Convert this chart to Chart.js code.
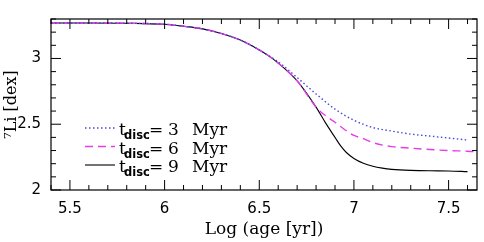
<!DOCTYPE html>
<html>
<head>
<meta charset="utf-8">
<script src="https://cdn.jsdelivr.net/npm/chart.js@4.4.0/dist/chart.umd.min.js"></script>
<style>
  html, body { margin: 0; padding: 0; background: #fff; }
  canvas { display: block; }
</style>
</head>
<body>
<canvas id="chart" width="484" height="242"></canvas>
<script>
// log(age) grid for each track
const ageT3 = [5.4, 5.6, 5.8, 6.0, 6.1, 6.2, 6.3, 6.4, 6.5, 6.55, 6.6, 6.7, 6.8, 6.9, 7.0, 7.1, 7.2, 7.3, 7.4, 7.5, 7.6];
const liT3  = [3.27, 3.27, 3.268, 3.26, 3.245, 3.225, 3.19, 3.14, 3.065, 3.02, 2.975, 2.855, 2.73, 2.615, 2.53, 2.475, 2.448, 2.425, 2.41, 2.395, 2.38];

const ageT6 = [5.4, 5.6, 5.8, 6.0, 6.1, 6.2, 6.3, 6.4, 6.5, 6.55, 6.6, 6.7, 6.8, 6.85, 6.9, 6.95, 7.0, 7.05, 7.1, 7.2, 7.3, 7.4, 7.5, 7.6, 7.65];
const liT6  = [3.27, 3.27, 3.268, 3.26, 3.245, 3.225, 3.19, 3.14, 3.065, 3.02, 2.965, 2.83, 2.63, 2.565, 2.515, 2.46, 2.415, 2.39, 2.36, 2.33, 2.318, 2.308, 2.3, 2.295, 2.29];

const ageT9 = [5.4, 5.6, 5.8, 6.0, 6.1, 6.2, 6.3, 6.4, 6.5, 6.55, 6.6, 6.7, 6.8, 6.85, 6.9, 6.93, 6.96, 7.0, 7.05, 7.1, 7.15, 7.2, 7.3, 7.4, 7.5, 7.6];
const liT9  = [3.27, 3.27, 3.268, 3.26, 3.245, 3.225, 3.19, 3.14, 3.065, 3.02, 2.965, 2.83, 2.63, 2.51, 2.4, 2.335, 2.285, 2.24, 2.203, 2.18, 2.166, 2.157, 2.149, 2.146, 2.145, 2.14];

const discTimes = ['3', '6', '9'];
const xTicks = [5.5, 6, 6.5, 7, 7.5];
const yTicks = [2, 2.5, 3];

function toPoints(xs, ys) {
    return xs.map((x, i) => ({ x: x, y: ys[i] }));
}

const serifFont = '"DejaVu Serif", serif';
const sansFont = '"DejaVu Sans", sans-serif';

// inward ticks on all four sides + closed frame
const frameTicks = {
    id: 'frameTicks',
    afterDraw(chart) {
        const ctx = chart.ctx;
        const a = chart.chartArea;
        const xs = chart.scales.x;
        const ys = chart.scales.y;
        ctx.save();
        ctx.strokeStyle = '#000';
        ctx.lineWidth = 1.2;
        ctx.strokeRect(a.left, a.top, a.right - a.left, a.bottom - a.top);
        ctx.lineWidth = 1;
        ctx.beginPath();
        for (let i = 54; i <= 76; i++) {
            const px = xs.getPixelForValue(i / 10);
            if (px < a.left || px > a.right) continue;
            const len = (i % 5 === 0) ? 10 : 5;
            ctx.moveTo(px, a.bottom); ctx.lineTo(px, a.bottom - len);
            ctx.moveTo(px, a.top); ctx.lineTo(px, a.top + len);
        }
        for (let i = 20; i <= 33; i++) {
            const py = ys.getPixelForValue(i / 10);
            if (py < a.top || py > a.bottom) continue;
            const len = (i % 5 === 0) ? 10 : 5;
            ctx.moveTo(a.left, py); ctx.lineTo(a.left + len, py);
            ctx.moveTo(a.right, py); ctx.lineTo(a.right - len, py);
        }
        ctx.stroke();
        ctx.restore();
    }
};

// legend with t_disc subscript
const discLegend = {
    id: 'discLegend',
    afterDraw(chart) {
        const ctx = chart.ctx;
        ctx.save();
        chart.data.datasets.forEach((ds, i) => {
            const lineY = 128 + i * 18.5;
            const base = 135 + i * 18.5;
            ctx.strokeStyle = ds.borderColor;
            ctx.lineWidth = ds.borderWidth;
            ctx.setLineDash(ds.borderDash || []);
            ctx.beginPath();
            ctx.moveTo(85, lineY);
            ctx.lineTo(115, lineY);
            ctx.stroke();
            ctx.setLineDash([]);
            ctx.fillStyle = '#000';
            ctx.textBaseline = 'alphabetic';
            ctx.textAlign = 'left';
            ctx.font = '17px ' + serifFont;
            ctx.fillText('t', 119, base);
            ctx.font = 'bold 11.5px ' + sansFont;
            ctx.fillText('disc', 124, base + 4);
            ctx.font = '17px ' + serifFont;
            ctx.fillText('=', 149, base);
            ctx.fillText(discTimes[i], 168, base);
            ctx.fillText('Myr', 192, base);
        });
        ctx.restore();
    }
};

new Chart(document.getElementById('chart'), {
    type: 'scatter',
    data: {
        datasets: [
            {
                label: 't_disc = 3 Myr',
                data: toPoints(ageT3, liT3),
                showLine: true,
                borderColor: '#4a4ad8',
                borderWidth: 1.4,
                borderDash: [1.5, 2.5],
                pointRadius: 0,
                cubicInterpolationMode: 'monotone'
            },
            {
                label: 't_disc = 6 Myr',
                data: toPoints(ageT6, liT6),
                showLine: true,
                borderColor: '#e83ce8',
                borderWidth: 1.4,
                borderDash: [8, 5],
                pointRadius: 0,
                cubicInterpolationMode: 'monotone'
            },
            {
                label: 't_disc = 9 Myr',
                data: toPoints(ageT9, liT9),
                showLine: true,
                borderColor: '#000000',
                borderWidth: 1.1,
                pointRadius: 0,
                cubicInterpolationMode: 'monotone'
            }
        ]
    },
    options: {
        responsive: false,
        animation: false,
        devicePixelRatio: 1,
        clip: 0,
        layout: { padding: { top: 5, right: 7, left: 2, bottom: 0 } },
        plugins: {
            legend: { display: false },
            tooltip: { enabled: false }
        },
        scales: {
            x: {
                type: 'linear',
                min: 5.4,
                max: 7.65,
                afterBuildTicks: scale => { scale.ticks = xTicks.map(v => ({ value: v })); },
                afterFit: scale => { scale.height = 52; },
                grid: { display: false, drawTicks: false },
                border: { display: false },
                ticks: {
                    padding: 10,
                    color: '#000',
                    font: { family: sansFont, size: 15 },
                    callback: v => String(v)
                },
                title: {
                    display: true,
                    text: 'Log (age [yr])',
                    color: '#000',
                    font: { family: serifFont, size: 17 },
                    padding: { top: 0, bottom: 2 }
                }
            },
            y: {
                type: 'linear',
                min: 2,
                max: 3.3,
                afterBuildTicks: scale => { scale.ticks = yTicks.map(v => ({ value: v })); },
                afterFit: scale => { scale.width = 49; },
                grid: { display: false, drawTicks: false },
                border: { display: false },
                ticks: {
                    padding: 10,
                    color: '#000',
                    font: { family: sansFont, size: 15 },
                    callback: v => String(v)
                },
                title: {
                    display: true,
                    text: '\u2077Li [dex]',
                    color: '#000',
                    font: { family: serifFont, size: 16 },
                    padding: { top: 0, bottom: 0 }
                }
            }
        }
    },
    plugins: [frameTicks, discLegend]
});
</script>
</body>
</html>
